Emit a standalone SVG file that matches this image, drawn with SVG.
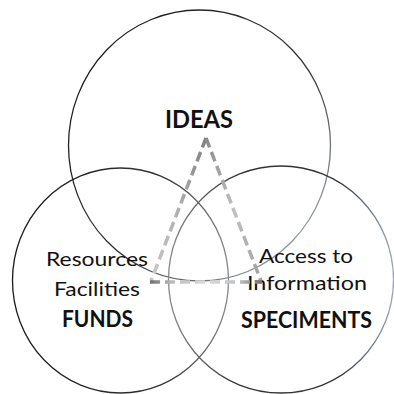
<svg xmlns="http://www.w3.org/2000/svg" width="394" height="394" viewBox="0 0 394 394">
  <style>
    .ring { fill: none; stroke-width: 1.3; }
    .lbl { font-family: Lato, "Open Sans", "Liberation Sans", sans-serif; fill: #111; text-anchor: middle; font-size: 20px; }
    .bold { font-weight: bold; font-size: 22px; }
    .dash { fill: none; stroke-width: 3.5; stroke-dasharray: 10 5; stroke-linecap: butt; }
  </style>
  <defs>
    <linearGradient id="gTop" gradientUnits="userSpaceOnUse" x1="90" y1="40" x2="320" y2="260">
      <stop offset="0" stop-color="#1a1a1a"/>
      <stop offset="0.55" stop-color="#333"/>
      <stop offset="1" stop-color="#a6b2bd"/>
    </linearGradient>
    <linearGradient id="gLeft" gradientUnits="userSpaceOnUse" x1="12" y1="0" x2="229" y2="0">
      <stop offset="0" stop-color="#1a1a1a"/>
      <stop offset="0.7" stop-color="#333"/>
      <stop offset="1" stop-color="#8a8a8a"/>
    </linearGradient>
    <linearGradient id="gRight" gradientUnits="userSpaceOnUse" x1="168" y1="0" x2="394" y2="0">
      <stop offset="0" stop-color="#8a8a8a"/>
      <stop offset="0.3" stop-color="#333"/>
      <stop offset="0.75" stop-color="#333"/>
      <stop offset="1" stop-color="#9aaab8"/>
    </linearGradient>
    <linearGradient id="gTriL" gradientUnits="userSpaceOnUse" x1="0" y1="138" x2="0" y2="282">
      <stop offset="0" stop-color="#808080"/>
      <stop offset="0.5" stop-color="#b0b0b0"/>
      <stop offset="1" stop-color="#c8c8c8"/>
    </linearGradient>
    <linearGradient id="gTriR" gradientUnits="userSpaceOnUse" x1="0" y1="138" x2="0" y2="282">
      <stop offset="0" stop-color="#8a8a8a"/>
      <stop offset="0.5" stop-color="#c0c0c0"/>
      <stop offset="1" stop-color="#a0a0a0"/>
    </linearGradient>
    <linearGradient id="gTriB" gradientUnits="userSpaceOnUse" x1="150" y1="0" x2="262" y2="0">
      <stop offset="0" stop-color="#707070"/>
      <stop offset="0.2" stop-color="#bdbdbd"/>
      <stop offset="0.5" stop-color="#dcdcdc"/>
      <stop offset="0.8" stop-color="#bdbdbd"/>
      <stop offset="1" stop-color="#707070"/>
    </linearGradient>
  </defs>

  <g id="ideas">
    <ellipse class="ring" cx="199.5" cy="145.5" rx="131" ry="135.5" stroke="url(#gTop)"/>
    <text class="lbl bold" x="199" y="127.5" font-size="24" textLength="68" lengthAdjust="spacingAndGlyphs" style="font-size:24px">IDEAS</text>
  </g>

  <g id="funds">
    <ellipse class="ring" cx="120.5" cy="280.5" rx="108" ry="112.5" stroke="url(#gLeft)"/>
    <text class="lbl" x="97" y="266" textLength="102" lengthAdjust="spacingAndGlyphs">Resources</text>
    <text class="lbl" x="97" y="296" textLength="86" lengthAdjust="spacingAndGlyphs">Facilities</text>
    <text class="lbl bold" x="97.5" y="326.5" textLength="71" lengthAdjust="spacingAndGlyphs">FUNDS</text>
  </g>

  <g id="speciments">
    <ellipse class="ring" cx="281" cy="279.5" rx="112.5" ry="113.5" stroke="url(#gRight)"/>
    <text class="lbl" x="306" y="262.5" textLength="94" lengthAdjust="spacingAndGlyphs">Access to</text>
    <text class="lbl" x="307" y="290" textLength="120" lengthAdjust="spacingAndGlyphs">Information</text>
    <text class="lbl bold" x="306.5" y="327.5" textLength="131" lengthAdjust="spacingAndGlyphs">SPECIMENTS</text>
  </g>

  <g id="connectors">
    <path class="dash" d="M206,138 L151,281" stroke="url(#gTriL)"/>
    <path class="dash" d="M206,138 L261,281" stroke="url(#gTriR)"/>
    <path class="dash" d="M150,282 L262,282" stroke="url(#gTriB)"/>
  </g>
</svg>
